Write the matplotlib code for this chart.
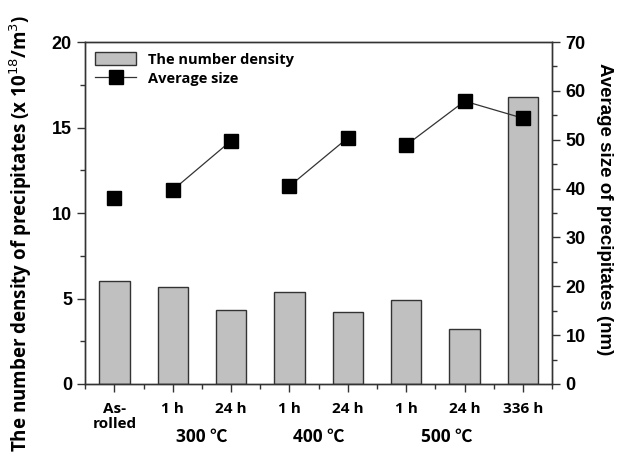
import matplotlib
matplotlib.use("Agg")
import matplotlib.pyplot as plt
import numpy as np
from matplotlib.ticker import MultipleLocator, FixedLocator
from matplotlib.lines import Line2D
from matplotlib.patches import Patch
import matplotlib.transforms as mtransforms

categories = ["As-\nrolled", "1 h", "24 h", "1 h", "24 h", "1 h", "24 h", "336 h"]
density = [6.0, 5.7, 4.3, 5.4, 4.2, 4.9, 3.2, 16.8]
avg_size = [38.0, 39.7, 49.8, 40.5, 50.4, 48.9, 57.9, 54.4]
groups = ["300 ℃", "400 ℃", "500 ℃"]
group_members = [[1, 2], [3, 4], [5, 6, 7]]
group_label_pos = [1.5, 3.5, 5.7]

kfont = ["Open Sans", "Noto Sans CJK KR", "DejaVu Sans"]
afont = "Liberation Sans"

fig = plt.figure(figsize=(6.17, 4.59), dpi=100)
ax = fig.add_axes([0.138, 0.1634, 0.757, 0.745])
x = np.arange(len(categories))
ax.bar(x, density, width=0.52, color="#c0c0c0", edgecolor="#333333", linewidth=1.0, zorder=2)
ax.set_xlim(-0.5, len(categories) - 0.5)
ax.set_ylim(0, 20)
ax.yaxis.set_major_locator(MultipleLocator(5))
ax.yaxis.set_minor_locator(MultipleLocator(2.5))
ax.set_xticks(x)
ax.set_xticklabels(categories, fontfamily=kfont, fontweight="bold", fontsize=11, linespacing=1.05)
ax.xaxis.set_minor_locator(FixedLocator(np.arange(-0.5, len(categories), 1.0)))
for lbl in ax.get_yticklabels():
    lbl.set_fontfamily(afont); lbl.set_fontweight("bold"); lbl.set_fontsize(13)
ax.tick_params(axis="both", which="both", direction="out", color="#333333")
ax.tick_params(axis="both", which="major", length=6, width=1)
ax.tick_params(axis="both", which="minor", length=3.5, width=1)
ax.tick_params(axis="x", which="major", pad=7)
for s in ax.spines.values():
    s.set_color("#333333"); s.set_linewidth(1.0)
ax.set_ylabel("The number density of precipitates (x 10$^{18}$/m$^{3}$)",
              fontfamily=kfont, fontweight="bold", fontsize=13.5)
ax.yaxis.set_label_coords(-0.11, 0.44)

ax2 = ax.twinx()
ax2.set_ylim(0, 70)
ax2.yaxis.set_major_locator(MultipleLocator(10))
ax2.yaxis.set_minor_locator(MultipleLocator(5))
ax2.tick_params(axis="y", which="both", direction="out", color="#333333")
ax2.tick_params(axis="y", which="major", length=6, width=1)
ax2.tick_params(axis="y", which="minor", length=3.5, width=1)
for lbl in ax2.get_yticklabels():
    lbl.set_fontfamily(afont); lbl.set_fontweight("bold"); lbl.set_fontsize(13)
for s in ax2.spines.values():
    s.set_color("#333333"); s.set_linewidth(1.0)
ax2.set_ylabel("Average size of precipitates (nm)", fontfamily=afont, fontweight="bold",
               fontsize=13.5, rotation=270, labelpad=20)
ax2.yaxis.set_label_coords(1.13, 0.512)

# As-rolled point alone
ax2.plot([x[0]], [avg_size[0]], marker="s", color="black", markersize=10, linestyle="none", zorder=3)
for members in group_members:
    ax2.plot(x[members], [avg_size[i] for i in members], color="#333333", linewidth=0.9,
             marker="s", markersize=10, markerfacecolor="black", markeredgecolor="black", zorder=3)

trans = mtransforms.blended_transform_factory(ax.transData, fig.transFigure)
for g, p in zip(groups, group_label_pos):
    ax.text(p, 1 - 437 / 459, g, transform=trans, ha="center", va="center",
            fontfamily=kfont, fontweight="bold", fontsize=12.5)

handles = [Patch(facecolor="#c0c0c0", edgecolor="#333333", linewidth=1.0),
           Line2D([0], [0], color="#333333", linewidth=0.9, marker="s", markersize=10,
                  markerfacecolor="black", markeredgecolor="black")]
leg = ax2.legend(handles, ["The number density", "Average size"], loc="upper left",
                 frameon=False, prop={"family": kfont, "weight": "bold", "size": 10.5},
                 handlelength=2.8, handleheight=1.0, borderaxespad=0.3, labelspacing=0.3)

fig.savefig("out.png", dpi=100)
